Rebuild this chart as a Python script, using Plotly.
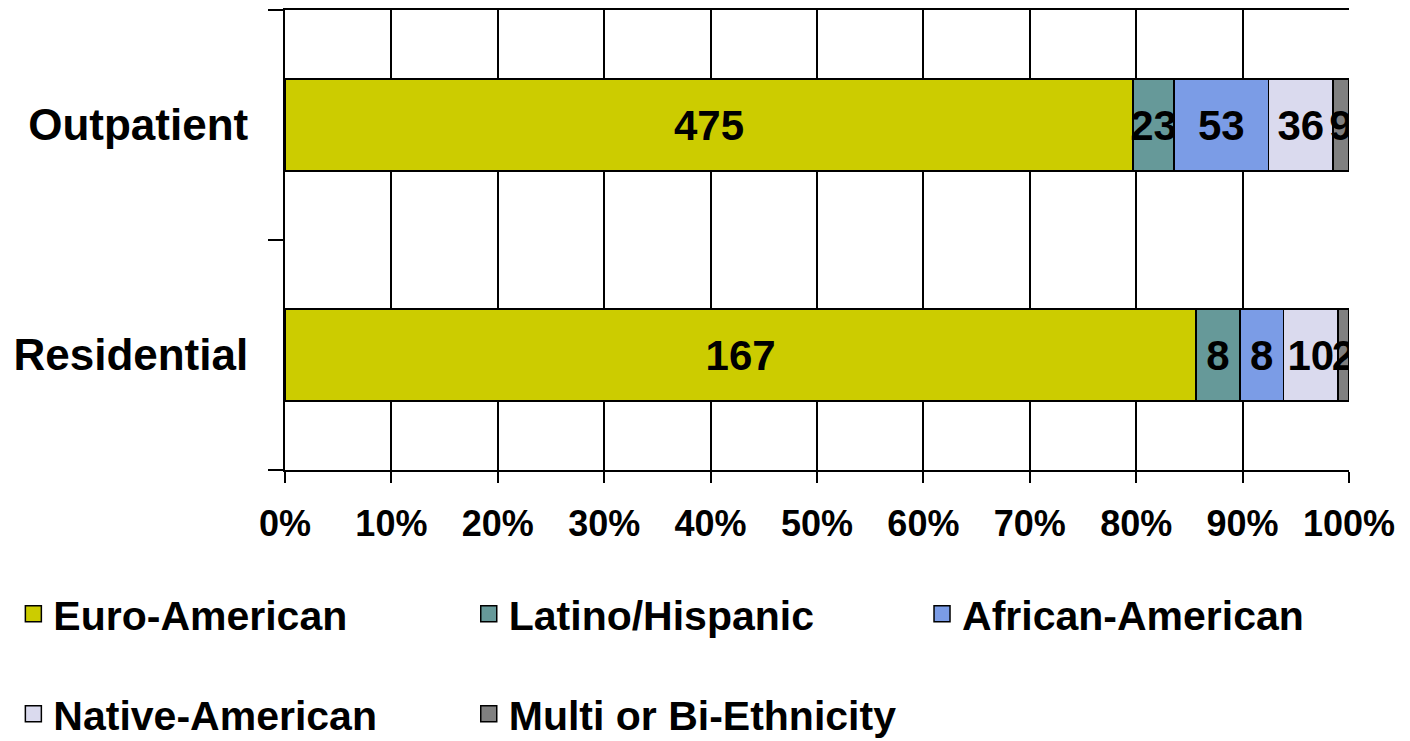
import plotly.graph_objects as go

# Categories (bottom to top on the chart)
settings = ['Residential', 'Outpatient']

# Counts per ethnicity, same order as settings
euro_american = [167, 475]
latino_hispanic = [8, 23]
african_american = [8, 53]
native_american = [10, 36]
multi_bi = [2, 9]

groups = ['Euro-American', 'Latino/Hispanic', 'African-American',
          'Native-American', 'Multi or Bi-Ethnicity']
values = [euro_american, latino_hispanic, african_american, native_american, multi_bi]
colors = ['#CCCC00', '#669999', '#7B9CE6', '#DADAEE', '#808080']

tick_vals = [0, 10, 20, 30, 40, 50, 60, 70, 80, 90, 100]
tick_text = ['0%', '10%', '20%', '30%', '40%', '50%', '60%', '70%', '80%', '90%', '100%']

FONT = 'Liberation Sans, Arial, sans-serif'

fig = go.Figure()

for name, vals, col in zip(groups, values, colors):
    fig.add_trace(go.Bar(
        y=settings,
        x=vals,
        orientation='h',
        name=name,
        marker=dict(color=col, line=dict(color='black', width=1.5)),
        text=vals,
        textposition='inside',
        insidetextanchor='middle',
        textangle=0,
        textfont=dict(family=FONT, size=42, color='black', weight='bold'),
        showlegend=False,
        hoverinfo='skip'
    ))

# one legend box per entry so the grid of entries matches the original
legend_ids = ['legend', 'legend2', 'legend3', 'legend4', 'legend5']
legend_x = [-0.2553, 0.1727, 0.5987, -0.2553, 0.1727]
legend_y = [-0.313, -0.313, -0.313, -0.5304, -0.5304]

for name, col, lid in zip(groups, colors, legend_ids):
    fig.add_trace(go.Scatter(
        x=[None], y=[None],
        mode='markers',
        name=name,
        marker=dict(symbol='square', size=16, color=col,
                    line=dict(color='black', width=1.5)),
        legend=lid,
        showlegend=True,
        hoverinfo='skip'
    ))

legends = {}
for lid, lx, ly in zip(legend_ids, legend_x, legend_y):
    legends[lid] = dict(
        x=lx, xanchor='left',
        y=ly, yanchor='middle',
        font=dict(family=FONT, size=41, color='black', weight='bold'),
        bgcolor='rgba(0,0,0,0)',
        itemclick=False, itemdoubleclick=False
    )

# the page body adds an 8px margin, so the figure is 8px smaller than the window
fig.update_layout(
    barmode='stack',
    barnorm='percent',
    bargap=0.6,
    width=1402, height=733,
    margin=dict(l=277, r=61, t=2, b=271, autoexpand=False),
    plot_bgcolor='white',
    paper_bgcolor='white',
    uniformtext=dict(minsize=42, mode='show'),
    xaxis=dict(
        range=[0, 100],
        tickvals=tick_vals,
        ticktext=tick_text,
        showgrid=True, gridcolor='black', gridwidth=1.5,
        zeroline=False,
        showline=True, linecolor='black', linewidth=2, mirror=True,
        ticks='outside', ticklen=11, tickwidth=2, tickcolor='black',
        ticklabelstandoff=10,
        automargin=False,
        tickfont=dict(family=FONT, size=36, color='black', weight='bold'),
        fixedrange=True
    ),
    yaxis=dict(
        categoryorder='array', categoryarray=settings,
        showline=True, linecolor='black', linewidth=2,
        ticks='outside', ticklen=15, tickwidth=2, tickcolor='black',
        tickson='boundaries',
        showgrid=False,
        ticklabelstandoff=26,
        automargin=False,
        tickfont=dict(family=FONT, size=44, color='black', weight='bold'),
        fixedrange=True
    ),
    **legends
)

fig.write_html("out.html")
